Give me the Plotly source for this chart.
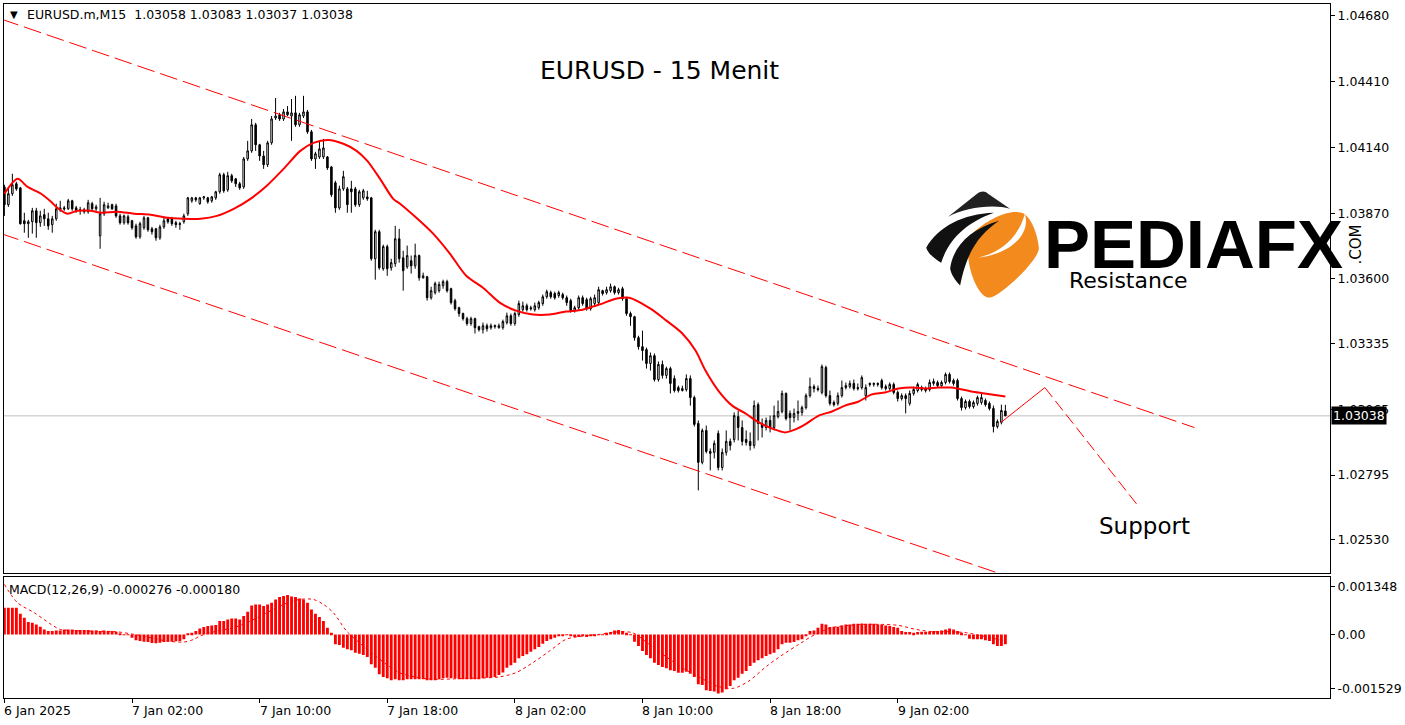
import plotly.graph_objects as go

# ---------------- data (EURUSD M15) ----------------
bar_index = list(range(252))
tick_index = [0, 32, 64, 96, 128, 160, 192, 224]
tick_labels = ["6 Jan 2025", "7 Jan 02:00", "7 Jan 10:00", "7 Jan 18:00",
               "8 Jan 02:00", "8 Jan 10:00", "8 Jan 18:00", "9 Jan 02:00"]

opens = [1.03978,1.03905,1.03950,1.03991,1.03974,1.03839,1.03827,1.03835,1.03880,1.03831,
1.03864,1.03847,1.03823,1.03847,1.03884,1.03892,1.03888,1.03921,1.03892,1.03880,
1.03884,1.03876,1.03909,1.03888,1.03777,1.03868,1.03892,1.03905,1.03900,1.03859,
1.03831,1.03855,1.03839,1.03818,1.03773,1.03810,1.03851,1.03806,1.03806,1.03769,
1.03814,1.03847,1.03847,1.03831,1.03823,1.03835,1.03868,1.03921,1.03933,1.03909,
1.03933,1.03933,1.03921,1.03933,1.03958,1.04028,1.03966,1.04024,1.04011,1.03991,
1.03978,1.04093,1.04126,1.04233,1.04151,1.04105,1.04069,1.04159,1.04261,1.04274,
1.04257,1.04286,1.04269,1.04282,1.04233,1.04269,1.04286,1.04204,1.04093,1.04101,
1.04101,1.04101,1.04060,1.03995,1.03892,1.03970,1.03970,1.03970,1.03970,1.03905,
1.03933,1.03937,1.03933,1.03683,1.03794,1.03642,1.03733,1.03646,1.03663,1.03765,
1.03687,1.03650,1.03675,1.03654,1.03696,1.03605,1.03609,1.03523,1.03544,1.03552,
1.03573,1.03589,1.03560,1.03511,1.03482,1.03458,1.03437,1.03417,1.03437,1.03404,
1.03392,1.03408,1.03400,1.03404,1.03400,1.03400,1.03421,1.03449,1.03417,1.03454,
1.03474,1.03490,1.03482,1.03474,1.03482,1.03499,1.03527,1.03544,1.03540,1.03532,
1.03536,1.03523,1.03511,1.03470,1.03482,1.03523,1.03515,1.03478,1.03499,1.03503,
1.03552,1.03544,1.03552,1.03568,1.03544,1.03560,1.03519,1.03458,1.03445,1.03359,
1.03322,1.03310,1.03253,1.03285,1.03187,1.03249,1.03204,1.03232,1.03191,1.03154,
1.03142,1.03146,1.03191,1.03113,1.03007,1.02847,1.02978,1.02892,1.02888,1.02966,
1.02826,1.02888,1.02933,1.02941,1.03035,1.02990,1.02941,1.02933,1.02916,1.03084,
1.03007,1.02990,1.03019,1.02990,1.03035,1.03056,1.03130,1.03048,1.03031,1.03048,
1.03052,1.03072,1.03121,1.03158,1.03150,1.03134,1.03236,1.03121,1.03093,1.03089,
1.03121,1.03154,1.03158,1.03171,1.03154,1.03154,1.03121,1.03171,1.03167,1.03171,
1.03183,1.03158,1.03150,1.03167,1.03134,1.03109,1.03121,1.03089,1.03130,1.03142,
1.03154,1.03150,1.03146,1.03171,1.03175,1.03162,1.03175,1.03208,1.03183,1.03183,
1.03109,1.03072,1.03097,1.03076,1.03089,1.03093,1.03101,1.03089,1.03068,1.02994,
1.03011,1.03058]

highs = [1.03987,1.03974,1.04032,1.03999,1.03978,1.03872,1.03843,1.03892,1.03892,1.03880,
1.03888,1.03872,1.03859,1.03909,1.03921,1.03900,1.03929,1.03925,1.03900,1.03896,
1.03892,1.03925,1.03917,1.03905,1.03933,1.03917,1.03913,1.03909,1.03909,1.03868,
1.03864,1.03864,1.03843,1.03827,1.03835,1.03859,1.03855,1.03814,1.03810,1.03823,
1.03855,1.03855,1.03855,1.03839,1.03835,1.03868,1.03937,1.03937,1.03937,1.03937,
1.03941,1.03937,1.03941,1.03962,1.04036,1.04036,1.04040,1.04032,1.04015,1.03999,
1.04101,1.04167,1.04257,1.04241,1.04155,1.04126,1.04167,1.04269,1.04343,1.04282,
1.04298,1.04310,1.04339,1.04352,1.04282,1.04352,1.04294,1.04212,1.04122,1.04167,
1.04175,1.04105,1.04064,1.04003,1.03983,1.04044,1.03978,1.04003,1.03978,1.03966,
1.03970,1.03962,1.03937,1.03802,1.03802,1.03741,1.03741,1.03683,1.03818,1.03806,
1.03716,1.03737,1.03696,1.03745,1.03700,1.03626,1.03613,1.03568,1.03589,1.03589,
1.03597,1.03597,1.03564,1.03519,1.03486,1.03462,1.03445,1.03445,1.03441,1.03408,
1.03421,1.03417,1.03417,1.03413,1.03417,1.03433,1.03462,1.03458,1.03466,1.03511,
1.03507,1.03499,1.03490,1.03503,1.03511,1.03536,1.03556,1.03552,1.03548,1.03552,
1.03544,1.03532,1.03519,1.03490,1.03532,1.03532,1.03523,1.03527,1.03536,1.03568,
1.03556,1.03568,1.03581,1.03573,1.03564,1.03568,1.03527,1.03466,1.03449,1.03367,
1.03388,1.03318,1.03298,1.03294,1.03261,1.03265,1.03240,1.03240,1.03204,1.03162,
1.03162,1.03208,1.03204,1.03121,1.03019,1.02986,1.02998,1.02904,1.02937,1.02978,
1.02904,1.02978,1.02945,1.03052,1.03060,1.03019,1.02978,1.02970,1.03101,1.03093,
1.03027,1.03031,1.03039,1.03080,1.03101,1.03142,1.03134,1.03060,1.03068,1.03101,
1.03080,1.03130,1.03195,1.03167,1.03162,1.03249,1.03244,1.03142,1.03101,1.03134,
1.03183,1.03175,1.03183,1.03187,1.03171,1.03204,1.03167,1.03175,1.03175,1.03175,
1.03191,1.03167,1.03175,1.03175,1.03142,1.03130,1.03130,1.03142,1.03158,1.03175,
1.03162,1.03158,1.03187,1.03191,1.03183,1.03183,1.03216,1.03216,1.03191,1.03191,
1.03117,1.03105,1.03105,1.03101,1.03121,1.03134,1.03109,1.03097,1.03080,1.03023,
1.03084,1.03083]

lows = [1.03859,1.03896,1.03941,1.03962,1.03823,1.03790,1.03769,1.03786,1.03769,1.03814,
1.03818,1.03802,1.03790,1.03839,1.03876,1.03880,1.03884,1.03880,1.03872,1.03864,
1.03868,1.03868,1.03884,1.03880,1.03724,1.03859,1.03888,1.03884,1.03851,1.03823,
1.03823,1.03823,1.03802,1.03765,1.03765,1.03802,1.03794,1.03782,1.03757,1.03761,
1.03806,1.03827,1.03818,1.03810,1.03802,1.03827,1.03859,1.03913,1.03917,1.03905,
1.03925,1.03909,1.03913,1.03925,1.03950,1.03954,1.03958,1.03995,1.03978,1.03966,
1.03970,1.04085,1.04118,1.04126,1.04085,1.04052,1.04060,1.04151,1.04253,1.04249,
1.04249,1.04269,1.04167,1.04225,1.04225,1.04261,1.04196,1.04085,1.04052,1.04093,
1.04093,1.04048,1.03937,1.03872,1.03884,1.03962,1.03872,1.03872,1.03896,1.03896,
1.03925,1.03921,1.03675,1.03597,1.03638,1.03634,1.03613,1.03634,1.03650,1.03667,
1.03552,1.03642,1.03622,1.03642,1.03593,1.03601,1.03511,1.03515,1.03536,1.03544,
1.03560,1.03544,1.03495,1.03470,1.03445,1.03429,1.03408,1.03408,1.03376,1.03384,
1.03376,1.03384,1.03392,1.03396,1.03396,1.03392,1.03413,1.03408,1.03408,1.03445,
1.03466,1.03466,1.03470,1.03466,1.03474,1.03490,1.03519,1.03519,1.03515,1.03523,
1.03515,1.03490,1.03462,1.03462,1.03474,1.03490,1.03470,1.03470,1.03490,1.03495,
1.03532,1.03536,1.03544,1.03536,1.03536,1.03511,1.03449,1.03408,1.03347,1.03310,
1.03265,1.03232,1.03224,1.03179,1.03179,1.03191,1.03191,1.03130,1.03134,1.03134,
1.03138,1.03138,1.03080,1.02994,1.02732,1.02839,1.02884,1.02814,1.02863,1.02814,
1.02814,1.02875,1.02896,1.02929,1.02937,1.02916,1.02916,1.02896,1.02904,1.02937,
1.02949,1.02978,1.02970,1.02978,1.03027,1.03048,1.03019,1.02978,1.03011,1.03019,
1.03039,1.03064,1.03113,1.03134,1.03138,1.03126,1.03113,1.03080,1.03076,1.03080,
1.03113,1.03146,1.03150,1.03142,1.03142,1.03146,1.03101,1.03158,1.03158,1.03158,
1.03146,1.03142,1.03142,1.03126,1.03097,1.03101,1.03048,1.03080,1.03121,1.03134,
1.03138,1.03134,1.03138,1.03162,1.03154,1.03158,1.03167,1.03171,1.03162,1.03101,
1.03060,1.03064,1.03068,1.03068,1.03080,1.03084,1.03076,1.03060,1.02970,1.02986,
1.03003,1.03037]

closes = [1.03905,1.03950,1.03987,1.03970,1.03827,1.03827,1.03835,1.03880,1.03831,1.03859,
1.03847,1.03818,1.03847,1.03888,1.03892,1.03888,1.03921,1.03888,1.03880,1.03884,
1.03876,1.03913,1.03888,1.03896,1.03868,1.03905,1.03900,1.03888,1.03859,1.03831,
1.03859,1.03831,1.03810,1.03773,1.03827,1.03851,1.03802,1.03794,1.03769,1.03814,
1.03839,1.03835,1.03827,1.03823,1.03827,1.03859,1.03933,1.03933,1.03925,1.03933,
1.03937,1.03917,1.03937,1.03958,1.04028,1.03962,1.04024,1.04003,1.03991,1.03974,
1.04093,1.04126,1.04233,1.04151,1.04105,1.04069,1.04159,1.04257,1.04269,1.04257,
1.04286,1.04274,1.04282,1.04233,1.04274,1.04286,1.04204,1.04093,1.04114,1.04134,
1.04138,1.04056,1.03946,1.03892,1.03970,1.04020,1.03905,1.03958,1.03905,1.03958,
1.03962,1.03929,1.03683,1.03794,1.03646,1.03733,1.03642,1.03667,1.03765,1.03683,
1.03634,1.03696,1.03654,1.03696,1.03605,1.03613,1.03523,1.03552,1.03581,1.03577,
1.03589,1.03552,1.03503,1.03478,1.03458,1.03437,1.03417,1.03437,1.03400,1.03392,
1.03408,1.03396,1.03408,1.03408,1.03408,1.03425,1.03449,1.03417,1.03458,1.03499,
1.03490,1.03474,1.03478,1.03490,1.03503,1.03527,1.03548,1.03527,1.03523,1.03544,
1.03523,1.03503,1.03470,1.03482,1.03523,1.03499,1.03478,1.03519,1.03523,1.03556,
1.03540,1.03556,1.03568,1.03544,1.03556,1.03519,1.03458,1.03445,1.03359,1.03322,
1.03306,1.03253,1.03285,1.03187,1.03249,1.03204,1.03232,1.03171,1.03142,1.03142,
1.03150,1.03191,1.03113,1.03003,1.02847,1.02978,1.02892,1.02884,1.02925,1.02826,
1.02888,1.02933,1.02916,1.03039,1.02990,1.02933,1.02929,1.02916,1.03080,1.03007,
1.02990,1.03019,1.02990,1.03039,1.03056,1.03130,1.03027,1.03031,1.03048,1.03056,
1.03072,1.03121,1.03158,1.03150,1.03146,1.03240,1.03121,1.03089,1.03084,1.03121,
1.03154,1.03162,1.03171,1.03150,1.03150,1.03195,1.03154,1.03167,1.03171,1.03167,
1.03154,1.03150,1.03167,1.03134,1.03109,1.03121,1.03109,1.03130,1.03146,1.03167,
1.03146,1.03142,1.03175,1.03179,1.03162,1.03175,1.03208,1.03179,1.03171,1.03109,
1.03072,1.03097,1.03076,1.03093,1.03113,1.03113,1.03084,1.03068,1.02994,1.03015,
1.03060,1.03038]

ma_index = [0, 3.3, 5.8, 9.2, 11.7, 13.3, 15.8, 18.3, 21.7, 24.2, 28.3, 32.5, 36.7, 40.8, 45, 49.2,
            53.3, 57.5, 61.7, 65.8, 70, 74.2, 77.5, 81.2, 85, 88.3, 91, 94.2, 97.5, 99.2, 103.3,
            107.5, 111.7, 115.8, 120, 124.2, 128.3, 132.5, 136.7, 140.8, 145, 149.2, 153.3, 156.7,
            162, 166, 170, 173.3, 175.8, 179, 182.5, 185.8, 189.2, 192.5, 195.8, 198.3, 200.8,
            204.2, 207.5, 210.8, 214.2, 217.5, 220.8, 224.2, 227.5, 230.8, 234.2, 237.5, 239,
            242.5, 245.8, 251]
ma_values = [1.03950, 1.04011, 1.03978, 1.03950, 1.03917, 1.03892, 1.03868, 1.03880, 1.03880, 1.03872,
             1.03876, 1.03868, 1.03864, 1.03851, 1.03847, 1.03847, 1.03859, 1.03888, 1.03929, 1.03983,
             1.04052, 1.04126, 1.04159, 1.04171, 1.04155, 1.04126, 1.04085, 1.04011, 1.03929, 1.03909,
             1.03851, 1.03786, 1.03704, 1.03613, 1.03564, 1.03503, 1.03470, 1.03454, 1.03454, 1.03466,
             1.03474, 1.03495, 1.03519, 1.03523, 1.03478, 1.03429, 1.03376, 1.03306, 1.03224, 1.03142,
             1.03080, 1.03048, 1.03011, 1.02986, 1.02970, 1.02982, 1.03003, 1.03039, 1.03056, 1.03080,
             1.03097, 1.03126, 1.03134, 1.03150, 1.03154, 1.03150, 1.03154, 1.03154, 1.03150, 1.03138,
             1.03130, 1.03117]

macd_hist = [0.000752,0.000752,0.000752,0.000752,0.000583,0.00047,0.000348,0.000329,0.000282,0.000216,
0.000141,0.000094,0.000094,0.000113,0.000113,0.000141,0.000141,0.000141,0.000122,0.000122,
0.000122,0.000122,0.000113,0.000113,0.000094,0.000113,0.000094,0.000094,0.000075,0.000019,
-0.000005,-0.000019,-0.000094,-0.000169,-0.000188,-0.000207,-0.000216,-0.000244,-0.000254,-0.000235,
-0.000216,-0.000207,-0.000207,-0.000197,-0.000188,-0.000141,0.00001,0.000047,0.000094,0.000169,
0.000207,0.000235,0.000254,0.000263,0.000376,0.000376,0.000423,0.000451,0.000451,0.000423,
0.000517,0.000639,0.000818,0.000846,0.000846,0.000799,0.000846,0.000893,0.000987,0.001053,
0.001081,0.001109,0.001072,0.001053,0.001015,0.000987,0.000893,0.000705,0.000583,0.000489,
0.000376,0.000188,0.000047,-0.000282,-0.000301,-0.000376,-0.000423,-0.000451,-0.000517,-0.000545,
-0.000583,-0.000639,-0.000846,-0.00094,-0.001128,-0.001203,-0.001241,-0.001297,-0.001269,-0.001297,
-0.001297,-0.001269,-0.001269,-0.001269,-0.001269,-0.001269,-0.001297,-0.001297,-0.001297,-0.001269,
-0.001241,-0.001222,-0.001241,-0.001241,-0.001269,-0.001269,-0.001269,-0.001269,-0.001269,-0.001269,
-0.001241,-0.001222,-0.001222,-0.001203,-0.00115,-0.00108,-0.00094,-0.000874,-0.000799,-0.000677,
-0.000611,-0.000564,-0.000489,-0.000423,-0.000357,-0.000263,-0.000188,-0.000141,-0.000094,-0.000047,
-0.000028,-0.000019,-0.000047,-0.000075,-0.000075,-0.000056,-0.000075,-0.000056,-0.000047,-0.000019,
0.000005,0.000047,0.000066,0.000113,0.000122,0.000094,0.000047,-0.000005,-0.000207,-0.000329,
-0.00047,-0.000583,-0.000677,-0.000799,-0.000865,-0.000921,-0.000959,-0.001015,-0.001034,-0.001081,
-0.001081,-0.001053,-0.001109,-0.001203,-0.00141,-0.001429,-0.001579,-0.001598,-0.001617,-0.001673,
-0.001645,-0.001551,-0.001457,-0.001297,-0.001222,-0.001109,-0.001034,-0.000893,-0.000799,-0.000733,
-0.000677,-0.000611,-0.000564,-0.000517,-0.000423,-0.000282,-0.000235,-0.000235,-0.000216,-0.000169,
-0.000141,-0.000047,0.000094,0.000113,0.000188,0.000301,0.000282,0.000207,0.000216,0.000216,
0.000254,0.000282,0.000282,0.000301,0.000301,0.00031,0.000301,0.000301,0.000301,0.000282,
0.000282,0.000254,0.000235,0.000207,0.000188,0.000094,0.000066,0.000066,0.000047,0.000066,
0.000075,0.000075,0.000075,0.000094,0.000094,0.000113,0.000141,0.000169,0.000141,0.000094,
0.000047,-0.000005,-0.000122,-0.000141,-0.000141,-0.000141,-0.000169,-0.000188,-0.000282,-0.000329,
-0.000329,-0.000276]

signal_index = [0, 3.3, 7.5, 11.7, 14, 20, 28, 32.5, 36.7, 40.8, 45, 47.5, 49, 53.3, 57.5, 61.7, 65.8,
                70, 74, 77.5, 80, 82.5, 85.8, 89, 92.5, 95.8, 99, 103, 107.5, 115.8, 124, 128.3, 132.5,
                136.7, 140.8, 145, 149.2, 153.3, 157.5, 161.7, 166, 170.2, 174.2, 178.6, 182.8, 186.7,
                191.2, 195.3, 199.2, 203.3, 207.5, 211.7, 215.8, 220.2, 224.2, 228.5, 232.8, 236.9,
                241.2, 245.3, 249.2, 251]
signal_values = [0.00141, 0.000893, 0.000611, 0.000282, 0.000141, 0.000094, 0.000075, 0.0, -0.000094,
                 -0.000188, -0.000216, -0.000141, -0.000047, 0.000094, 0.000188, 0.000376, 0.000611,
                 0.000846, 0.000987, 0.000987, 0.000846, 0.000611, 0.000094, -0.000235, -0.000564,
                 -0.000846, -0.001081, -0.001203, -0.001269, -0.001241, -0.001203, -0.001081, -0.000799,
                 -0.00047, -0.000141, -0.000047, 0.0, 0.000066, 0.000047, -0.000282, -0.000639,
                 -0.000959, -0.001203, -0.001457, -0.001523, -0.001316, -0.000893, -0.000564, -0.000282,
                 0.0, 0.000188, 0.000254, 0.000282, 0.000282, 0.000254, 0.000141, 0.000075, 0.000075,
                 0.000047, -0.000047, -0.000141, -0.00018]

channel_upper_index = [-0.8, 298.4]
channel_upper_price = [1.04667, 1.02990]
channel_lower_index = [-0.8, 300]
channel_lower_price = [1.03786, 1.02109]
projection_up_index = [249.9, 260.9]
projection_up_price = [1.03011, 1.03154]
projection_down_index = [260.9, 284.2]
projection_down_price = [1.03154, 1.02670]

last_price = 1.03038
price_ticks = [1.04680, 1.04410, 1.04140, 1.03870, 1.03600, 1.03335, 1.03065, 1.02795, 1.02530]
macd_ticks = [0.001348, 0.0, -0.001529]
macd_tick_text = ["0.001348", "0.00", "-0.001529"]

# ---------------- figure ----------------
W, H = 1405, 725
ML, MR, MT, MB = 3, 72, 3, 27
PW, PH = W - ML - MR, H - MT - MB
FONT = "DejaVu Sans"


def px_to_paper(x, y):
    return (x - ML) / PW, (H - MB - y) / PH


def svg_path(cmds):
    out = []
    for c in cmds:
        op, pts = c[0], c[1:]
        coords = []
        for k in range(0, len(pts), 2):
            px, py = px_to_paper(pts[k], pts[k + 1])
            coords.append(f"{px:.5f},{py:.5f}")
        out.append(op + " " + " ".join(coords))
    return " ".join(out)


main_bottom = (H - MB - 573) / PH
macd_top = (H - MB - 577) / PH

fig = go.Figure()

fig.add_trace(go.Candlestick(
    x=bar_index, open=opens, high=highs, low=lows, close=closes,
    increasing=dict(line=dict(color="black", width=1), fillcolor="white"),
    decreasing=dict(line=dict(color="black", width=1), fillcolor="black"),
    whiskerwidth=0, showlegend=False, hoverinfo="skip", xaxis="x", yaxis="y"))

fig.add_trace(go.Scatter(x=ma_index, y=ma_values, mode="lines",
                         line=dict(color="#ff0000", width=2, shape="spline", smoothing=0.8),
                         showlegend=False, hoverinfo="skip", xaxis="x", yaxis="y"))

for xs, ys in [(channel_upper_index, channel_upper_price), (channel_lower_index, channel_lower_price)]:
    fig.add_trace(go.Scatter(x=xs, y=ys, mode="lines",
                             line=dict(color="#ff0000", width=1, dash="18px,6px"),
                             showlegend=False, hoverinfo="skip", xaxis="x", yaxis="y"))

fig.add_trace(go.Scatter(x=projection_up_index, y=projection_up_price, mode="lines",
                         line=dict(color="#ff0000", width=1),
                         showlegend=False, hoverinfo="skip", xaxis="x", yaxis="y"))
fig.add_trace(go.Scatter(x=projection_down_index, y=projection_down_price, mode="lines",
                         line=dict(color="#ff0000", width=1, dash="12px,5px"),
                         showlegend=False, hoverinfo="skip", xaxis="x", yaxis="y"))

fig.add_trace(go.Bar(x=bar_index, y=macd_hist, marker=dict(color="#ff0000", line=dict(width=0)),
                     width=0.72, showlegend=False, hoverinfo="skip", xaxis="x2", yaxis="y2"))
fig.add_trace(go.Scatter(x=signal_index, y=signal_values, mode="lines",
                         line=dict(color="#ff0000", width=1, dash="dot", shape="spline", smoothing=0.8),
                         showlegend=False, hoverinfo="skip", xaxis="x2", yaxis="y2"))

xr = [-0.1, PW / 4.0 - 0.1]
axis_common = dict(showgrid=False, zeroline=False, showline=True, mirror=True,
                   linecolor="black", linewidth=1)

fig.update_layout(
    width=W, height=H, margin=dict(l=ML, r=MR, t=MT, b=MB, pad=0),
    paper_bgcolor="white", plot_bgcolor="white", hovermode=False, boxgap=0.45,
    font=dict(family=FONT, color="black", size=12),
    xaxis=dict(domain=[0, 1], range=xr, anchor="y", showticklabels=False, ticks="",
               rangeslider=dict(visible=False), **axis_common),
    yaxis=dict(domain=[main_bottom, 1], range=[1.02392, 1.04729], side="right", anchor="x",
               tickvals=price_ticks, ticktext=[f"{v:.5f}" for v in price_ticks],
               ticks="outside", ticklen=4, tickcolor="black",
               tickfont=dict(family=FONT, size=12.5, color="black"), **axis_common),
    xaxis2=dict(domain=[0, 1], range=xr, anchor="y2", matches="x", showticklabels=False,
                tickvals=tick_index, ticks="outside", ticklen=4, tickcolor="black", **axis_common),
    yaxis2=dict(domain=[0, macd_top], range=[-0.001797, 0.001616], side="right", anchor="x2",
                tickvals=macd_ticks, ticktext=macd_tick_text, ticks="outside", ticklen=4,
                tickcolor="black", tickfont=dict(family=FONT, size=12.5, color="black"),
                **axis_common),
)

shapes = [
    dict(type="line", xref="x domain", yref="y", x0=0, x1=1, y0=last_price, y1=last_price,
         line=dict(color="#c0c0c0", width=1), layer="below"),
]

# logo emblem (decoration)
shapes.append(dict(type="path", xref="paper", yref="paper", fillcolor="#f28a1e", line=dict(width=0),
                   path=svg_path([("M", 975, 232), ("C", 988, 220, 1010, 208, 1024, 212),
                                  ("C", 1033, 215, 1040, 234, 1041, 247),
                                  ("C", 1042, 259, 1002, 296, 992, 297),
                                  ("C", 981, 298, 971, 272, 970, 255),
                                  ("C", 969, 245, 970, 238, 975, 232), ("Z",)])))
shapes.append(dict(type="path", xref="paper", yref="paper", fillcolor="#222222", line=dict(width=0),
                   path=svg_path([("M", 950, 216), ("L", 979, 193), ("C", 983, 190, 987, 190, 990, 193),
                                  ("L", 1012, 208), ("C", 995, 203, 966, 207, 950, 216), ("Z",)])))
shapes.append(dict(type="path", xref="paper", yref="paper", fillcolor="#111111", line=dict(width=0),
                   path=svg_path([("M", 928, 247), ("C", 940, 226, 965, 213, 996, 212),
                                  ("C", 968, 222, 951, 238, 943, 262),
                                  ("C", 936, 258, 930, 253, 928, 247), ("Z",)])))
shapes.append(dict(type="path", xref="paper", yref="paper", fillcolor="#111111", line=dict(width=0),
                   path=svg_path([("M", 952, 268), ("C", 955, 245, 973, 228, 1001, 220),
                                  ("C", 981, 234, 969, 250, 962, 285),
                                  ("C", 957, 280, 953, 274, 952, 268), ("Z",)])))
shapes.append(dict(type="path", xref="paper", yref="paper", fillcolor="white", line=dict(width=0),
                   path=svg_path([("M", 980, 257), ("C", 1002, 252, 1020, 238, 1027, 213),
                                  ("C", 1033, 233, 1014, 253, 980, 257), ("Z",)])))
fig.update_layout(shapes=shapes)

ann = []
for t, lab in zip(tick_index, tick_labels):
    ann.append(dict(x=t, xref="x2", y=(H - MB - 711) / PH, yref="paper", text=lab, showarrow=False,
                    xanchor="left", yanchor="middle", xshift=-2,
                    font=dict(family=FONT, size=12.5, color="black")))


def px_ann(x, y, text, size, xanchor="left", family=FONT, color="black", **kw):
    px, py = px_to_paper(x, y)
    return dict(x=px, y=py, xref="paper", yref="paper", text=text, showarrow=False,
                xanchor=xanchor, yanchor="middle", font=dict(family=family, size=size, color=color), **kw)


ann.append(px_ann(7, 14, "▼", 10))
ann.append(px_ann(24, 14, "EURUSD.m,M15  1.03058 1.03083 1.03037 1.03038", 12.5))
ann.append(px_ann(6, 589, "MACD(12,26,9) -0.000276 -0.000180", 12.5))
ann.append(px_ann(660, 70, "EURUSD - 15 Menit", 25, xanchor="center"))
ann.append(px_ann(1196, 244, "<b>PEDIAFX</b>", 69, xanchor="center", family="Liberation Sans"))
ann.append(px_ann(1359, 244, ".COM", 15, xanchor="center", textangle=-90))
ann.append(px_ann(1131, 280, "Resistance", 22, xanchor="center"))
ann.append(px_ann(1147, 526, "Support", 23, xanchor="center"))
ann.append(dict(x=1, xref="paper", y=last_price, yref="y", text="1.03038", showarrow=False,
                xanchor="left", yanchor="middle", xshift=1, bgcolor="black", borderpad=1,
                font=dict(family=FONT, size=12.5, color="white")))
fig.update_layout(annotations=ann)

fig.write_html("out.html", config={"displayModeBar": False},
               post_script="document.body.style.margin='0px';document.body.style.overflow='hidden';")
